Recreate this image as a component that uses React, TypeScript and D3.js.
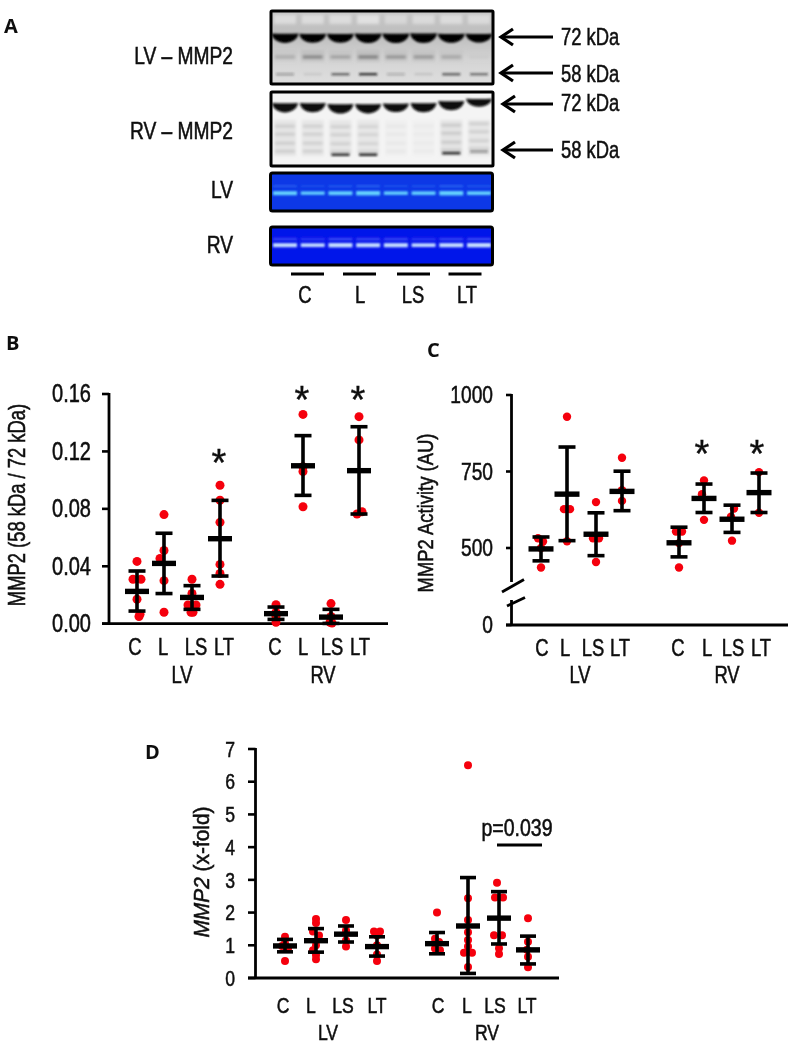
import React from "react";
import * as d3 from "d3";

const SANS = "'Liberation Sans',sans-serif";
const BOLD = "'Open Sans',sans-serif";

const groups = ["LV C", "LV L", "LV LS", "LV LT", "RV C", "RV L", "RV LS", "RV LT"];
const tickNames = ["C", "L", "LS", "LT", "C", "L", "LS", "LT"];

// ---- Panel B values
const bTicks = [0, 0.04, 0.08, 0.12, 0.16];
const bPoints = [
  [0.0434, 0.031, 0.031, 0.017, 0.005, 0.0065],
  [0.076, 0.051, 0.0455, 0.03, 0.008],
  [0.031, 0.021, 0.013, 0.013, 0.008, 0.008],
  [0.0964, 0.086, 0.0706, 0.0413, 0.035, 0.0274],
  [0.0132, 0.008, 0.005, 0.001],
  [0.1458, 0.1094, 0.106, 0.0815],
  [0.014, 0.005, 0.001, 0.0005],
  [0.1442, 0.128, 0.078, 0.0764],
];
const bJitter = [
  [0, -4, 4, 0, 2, 3],
  [0, 0, -4, 0, 0],
  [0, 0, -4, 4, -1, 1],
  [0, 0, 0, 0, 0, 0],
  [0, 0, 0, 0],
  [0, 0, 0, 0],
  [0, 0, -1, 1],
  [0, 0, 3, -2],
];
const bMeans = [0.0225, 0.042, 0.0183, 0.0592, 0.007, 0.11, 0.0046, 0.1066];
const bUpper = [0.0367, 0.063, 0.0265, 0.0859, 0.0116, 0.131, 0.01, 0.1372];
const bLower = [0.0088, 0.021, 0.01, 0.0332, 0.003, 0.0894, 0.0002, 0.0764];
const bStars = [3, 5, 7];
const bStarValues = [0.1147, 0.1587, 0.1587];

// ---- Panel C values
const cTicks = [0, 500, 750, 1000];
const cPoints = [
  [532, 521, 500, 436],
  [929, 627, 627, 522],
  [650, 532, 532, 454],
  [795, 689, 654],
  [554, 554, 516, 436],
  [721, 676, 592],
  [629, 602, 524],
  [748, 615],
];
const cJitter = [
  [-3, 2, 0, 0],
  [0, -3, 3, 0],
  [0, -3, 3, 0],
  [0, 0, 0],
  [-3, 3, 0, 0],
  [0, -2, 0],
  [2, -1, 0],
  [0, 0],
];
const cMeans = [497, 676, 545, 685, 517, 662, 594, 681];
const cUpper = [536, 830, 615, 751, 568, 709, 640, 745];
const cLower = [458, 524, 475, 622, 471, 616, 551, 616];
const cStars = [5, 7];
const cStarValues = [820, 820];

// ---- Panel D values
const dTicks = [0, 1, 2, 3, 4, 5, 6, 7];
const dPoints = [
  [1.26, 1.06, 0.98, 0.9, 0.52],
  [1.8, 1.68, 1.42, 1.3, 1.0, 0.85, 0.7, 0.57],
  [1.77, 1.45, 1.15, 0.96],
  [1.42, 1.42, 1.3, 1.0, 0.72, 0.52],
  [2.0, 1.2, 1.1, 0.9, 0.85],
  [6.5, 2.44, 1.77, 1.4, 1.16, 0.96, 0.77, 0.77, 0.34],
  [2.91, 2.46, 2.46, 1.31, 1.31, 0.91, 0.73],
  [1.83, 1.11, 0.86, 0.65, 0.33],
];
const dJitter = [
  [0, 0, -3, 3, 0],
  [0, 0, -3, 3, 0, -3, 0, 0],
  [0, 0, 0, 0],
  [-3, 3, 0, 0, 0, 0],
  [0, -2, 2, -2, 3],
  [0, 0, 0, 0, 0, 0, -4, 4, 0],
  [-2, -4, 4, -5, 3, 0, 0],
  [0, 0, -1, 0, 0],
];
const dMeans = [0.98, 1.14, 1.34, 0.96, 1.05, 1.59, 1.83, 0.86];
const dUpper = [1.18, 1.51, 1.59, 1.26, 1.39, 3.07, 2.64, 1.28];
const dLower = [0.8, 0.79, 1.1, 0.67, 0.74, 0.14, 1.04, 0.43];

// ---- Panel A band strengths (0..1), one per lane
const laneNames = ["1", "2", "3", "4", "5", "6", "7", "8"];
const lvWash = [0.75, 0.75, 0.75, 0.9, 0.6, 0.7, 0.75, 0.7];
const lvMain = [1, 0.85, 0.85, 1.05, 1.05, 1.1, 0.9, 0.8];
const lvUpper = [0.25, 0.5, 0.32, 0.55, 0.42, 0.4, 0.28, 0.05];
const lv58 = [0.3, 0.08, 0.6, 0.9, 0.22, 0.1, 0.65, 0.55];
const rvMain = [1, 0.95, 1.05, 1, 0.8, 0.95, 0.95, 0.65];
const rvLadder = [0.26, 0.24, 0.24, 0.22, 0.08, 0.06, 0.28, 0.24];
const rv58 = [0, 0, 0.9, 0.95, 0, 0, 0.9, 0.4];
const rvShift = [0, 0, 1, 1, 0, 0, -2, -5];
const blueLV = [0.85, 0.55, 0.8, 1, 0.6, 0.65, 1, 0.7];
const blueRV = [0.85, 0.7, 1, 0.9, 0.9, 0.7, 0.9, 1];
const ladderOffsets = [17, 25, 34, 42];

const conditionNames = ["C", "L", "LS", "LT"];

function T({ x, y, size, sx = 0.8, anchor = "middle", rotate = false, children }: any) {
  return (
    <text
      transform={`translate(${x},${y})${rotate ? " rotate(-90)" : ""} scale(${sx},1)`}
      textAnchor={anchor}
      dominantBaseline="central"
      fontFamily={SANS}
      fontSize={size}
      fill="#111"
      stroke="#111"
      strokeWidth={0.55}
    >
      {children}
    </text>
  );
}

type PanelProps = {
  xs: number[];
  labelXs: number[];
  y: (v: number) => number;
  ticks: number[];
  fmt: (v: number) => string;
  points: number[][];
  jitter: number[][];
  means: number[];
  upper: number[];
  lower: number[];
  axisX: number;
  axisRight: number;
  tickLeft: number;
  labelRight: number;
  labelY: number;
  groupY: number;
  groupXs: number[];
  r: number;
  fontSize: number;
  catSize: number;
  meanHalf: number;
  capHalf: number;
  noAxis?: boolean;
};

function Panel(p: PanelProps) {
  const x = d3.scaleOrdinal<string, number>().domain(groups).range(p.xs);
  const lx = d3.scaleOrdinal<string, number>().domain(groups).range(p.labelXs);
  return (
    <g>
      {!p.noAxis && (
        <line x1={p.axisX} x2={p.axisX} y1={p.y(p.ticks[p.ticks.length - 1]) - 1} y2={p.y(0)} stroke="#000" strokeWidth={2.8} />
      )}
      <line x1={p.tickLeft} x2={p.axisRight} y1={p.y(0)} y2={p.y(0)} stroke="#000" strokeWidth={2.8} />
      {p.ticks.map((t) => (
        <g key={t}>
          <line x1={p.tickLeft} x2={p.axisX} y1={p.y(t)} y2={p.y(t)} stroke="#000" strokeWidth={2.6} />
          <T x={p.labelRight} y={p.y(t)} size={p.fontSize} anchor="end">{p.fmt(t)}</T>
        </g>
      ))}
      {groups.map((g, i) => {
        const cx = x(g) as number;
        return (
          <g key={g}>
            {p.points[i].map((v, j) => (
              <circle key={j} cx={cx + p.jitter[i][j]} cy={p.y(v)} r={p.r} fill="#f5000a" />
            ))}
            <line x1={cx} x2={cx} y1={p.y(p.upper[i])} y2={p.y(p.lower[i])} stroke="#000" strokeWidth={3.6} />
            <line x1={cx - p.capHalf} x2={cx + p.capHalf} y1={p.y(p.upper[i])} y2={p.y(p.upper[i])} stroke="#000" strokeWidth={3.6} />
            <line x1={cx - p.capHalf} x2={cx + p.capHalf} y1={p.y(p.lower[i])} y2={p.y(p.lower[i])} stroke="#000" strokeWidth={3.6} />
            <line x1={cx - p.meanHalf} x2={cx + p.meanHalf} y1={p.y(p.means[i])} y2={p.y(p.means[i])} stroke="#000" strokeWidth={5.4} />
            <T x={lx(g)} y={p.labelY} size={p.catSize}>{tickNames[i]}</T>
          </g>
        );
      })}
      {["LV", "RV"].map((t, i) => (
        <T key={t} x={p.groupXs[i]} y={p.groupY} size={p.catSize}>{t}</T>
      ))}
    </g>
  );
}

function Arrow({ x1, x2, y }: { x1: number; x2: number; y: number }) {
  return (
    <g fill="none" stroke="#000" strokeWidth={3.2}>
      <line x1={x1 + 1} x2={x2} y1={y} y2={y} />
      <polyline points={`${x1 + 13},${y - 8} ${x1 + 1},${y} ${x1 + 13},${y + 8}`} />
    </g>
  );
}

function Star({ x, y }: { x: number; y: number }) {
  return (
    <text x={x} y={y + 17} textAnchor="middle" fontFamily={SANS} fontSize={38} fill="#111" stroke="#111" strokeWidth={0.4}>
      *
    </text>
  );
}

function Letter({ x, y, children }: any) {
  return <text x={x} y={y} fontFamily={BOLD} fontWeight={700} fontSize={20} fill="#111">{children}</text>;
}

function smile(cx: number, y: number, hw: number, h: number, sag: number) {
  const path = d3.path();
  path.moveTo(cx - hw, y - h / 2);
  path.quadraticCurveTo(cx, y - h / 2 + sag, cx + hw, y - h / 2);
  path.bezierCurveTo(cx + hw * 0.85, y + h * 0.9, cx - hw * 0.85, y + h * 0.9, cx - hw, y - h / 2);
  path.closePath();
  return path.toString();
}

export default function App() {
  const lane = d3.scalePoint<string>().domain(laneNames).range([285, 479]);
  const bY = d3.scaleLinear().domain([0, 0.16]).range([623.7, 394]);
  const cY = d3.scaleLinear().domain([0, 380, 500, 1000]).range([625, 584.7, 548, 395]);
  const dY = d3.scaleLinear().domain([0, 7]).range([978, 749]);
  const bX = d3.scaleOrdinal<string, number>().domain(groups).range([137, 164, 192, 220, 276, 303, 331, 359]);
  const cX = d3.scaleOrdinal<string, number>().domain(groups).range([541, 567, 596, 622, 679, 704, 732, 759]);
  const condX = d3.scaleOrdinal<string, number>().domain(conditionNames).range([307.5, 359.5, 413.5, 465]);
  const condLabel = d3.scaleOrdinal<string, number>().domain(conditionNames).range([305, 360, 413, 467]);

  return (
    <svg width={790} height={1049} style={{ position: "absolute", left: 0, top: 0, background: "#fff" }}>
      <defs>
        <filter id="soft" x="-5%" y="-5%" width="110%" height="110%">
          <feGaussianBlur stdDeviation="0.55" />
        </filter>
        <filter id="blot" filterUnits="userSpaceOnUse" x="260" y="0" width="245" height="180">
          <feGaussianBlur stdDeviation="1.7" />
        </filter>
        <filter id="band" filterUnits="userSpaceOnUse" x="260" y="0" width="245" height="280">
          <feGaussianBlur stdDeviation="0.9" />
        </filter>
        <linearGradient id="lvBg" x1="0" x2="0" y1="0" y2="1">
          <stop offset="0" stopColor="#c6c6c6" />
          <stop offset="0.35" stopColor="#bebebe" />
          <stop offset="0.65" stopColor="#d4d4d4" />
          <stop offset="1" stopColor="#dedede" />
        </linearGradient>
        <clipPath id="lvClip"><rect x={271} y={11} width={222} height={73} /></clipPath>
        <clipPath id="rvClip"><rect x={271} y={92} width={222} height={74} /></clipPath>
        <clipPath id="lvBlue"><rect x={271} y={173} width={221} height={38} /></clipPath>
        <clipPath id="rvBlue"><rect x={271} y={227} width={221} height={38} /></clipPath>
      </defs>

      <g filter="url(#soft)">
        <Letter x={4} y={33}>A</Letter>
        <Letter x={6} y={350}>B</Letter>
        <Letter x={427} y={357}>C</Letter>
        <Letter x={145} y={759}>D</Letter>

        {/* Panel A */}
        <g clipPath="url(#lvClip)">
          <rect x={270} y={10} width={224} height={75} fill="url(#lvBg)" />
          <g filter="url(#blot)">
            {laneNames.map((l, i) => {
              const c = lane(l) as number;
              return (
                <g key={l}>
                  <rect x={c - 11} y={15} width={22} height={9} fill="#fff" opacity={lvWash[i] * 0.55} />
                  <rect x={c - 12} y={50} width={24} height={12} fill="#9a9a9a" opacity={lvUpper[i] * 0.45} />
                  <rect x={c - 10} y={55.5} width={20} height={3} fill="#444" opacity={lvUpper[i] * 1.1} />
                </g>
              );
            })}
          </g>
          <g filter="url(#band)">
            {laneNames.map((l, i) => {
              const c = lane(l) as number;
              return (
                <g key={l}>
                  <rect x={c - 9} y={73} width={18} height={2.4} fill="#222" opacity={lv58[i]} />
                  <path d={smile(c, 38, 13.5, 6 + 3 * lvMain[i], 0.5)} fill="#060606" />
                </g>
              );
            })}
          </g>
        </g>
        <rect x={271} y={11} width={222} height={73} fill="none" stroke="#000" strokeWidth={3} rx={1} />

        <g clipPath="url(#rvClip)">
          <rect x={270} y={92} width={224} height={75} fill="#f4f4f4" />
          <g filter="url(#blot)">
            {laneNames.map((l, i) => {
              const c = lane(l) as number;
              return (
                <g key={l}>
                  <rect x={c - 11} y={120} width={22} height={36} fill="#cfcfcf" opacity={rvLadder[i] * 1.6} />
                  {ladderOffsets.map((o) => (
                    <rect key={o} x={c - 10} y={108 + o + rvShift[i] / 2} width={20} height={2.4} fill="#777" opacity={rvLadder[i] * 1.1} />
                  ))}
                </g>
              );
            })}
          </g>
          <g filter="url(#band)">
            {laneNames.map((l, i) => {
              const c = lane(l) as number;
              return (
                <g key={l}>
                  <rect x={c - 9} y={153 + rvShift[i] / 2} width={18} height={2.4} fill="#111" opacity={rv58[i]} />
                  <path d={smile(c, 107.5 + rvShift[i], 13, 5 + 4 * rvMain[i], 0.5)} fill="#0a0a0a" />
                </g>
              );
            })}
          </g>
        </g>
        <rect x={271} y={92} width={222} height={74} fill="none" stroke="#000" strokeWidth={3} rx={1} />

        <rect x={270.5} y={173} width={222} height={38} fill="#0a37e6" />
        <g clipPath="url(#lvBlue)">
          <g filter="url(#band)">
            {laneNames.map((l, i) => {
              const c = lane(l) as number;
              return (
                <g key={l}>
                  <rect x={c - 12} y={185.5} width={24} height={1.4} fill="#5aa0ff" opacity={blueLV[i] * 0.6} />
                  <rect x={c - 12} y={192 - blueLV[i]} width={24} height={2 + 2.4 * blueLV[i]} fill="#66d4ff" />
                </g>
              );
            })}
          </g>
        </g>
        <rect x={270.5} y={173} width={222} height={38} fill="none" stroke="#000" strokeWidth={3} rx={2} />
        <rect x={270.5} y={227} width={222} height={38} fill="#0412ea" />
        <g clipPath="url(#rvBlue)">
          <g filter="url(#band)">
            {laneNames.map((l, i) => {
              const c = lane(l) as number;
              return (
                <g key={l}>
                  <rect x={c - 12} y={238.5} width={24} height={1.4} fill="#7a8cff" opacity={blueRV[i] * 0.8} />
                  <rect x={c - 12} y={244 - blueRV[i]} width={24} height={2 + 2.4 * blueRV[i]} fill="#c8e0ff" />
                </g>
              );
            })}
          </g>
        </g>
        <rect x={270.5} y={227} width={222} height={38} fill="none" stroke="#000" strokeWidth={3} rx={2} />

        {conditionNames.map((c) => (
          <g key={c}>
            <line x1={(condX(c) as number) - 16.5} x2={(condX(c) as number) + 16.5} y1={274} y2={274} stroke="#000" strokeWidth={3.2} />
            <T x={condLabel(c)} y={295} size={23}>{c}</T>
          </g>
        ))}
        <T x={233} y={56} size={24} anchor="end">LV – MMP2</T>
        <T x={233} y={131} size={24} anchor="end">RV – MMP2</T>
        <T x={233} y={190} size={24} anchor="end">LV</T>
        <T x={233} y={245} size={24} anchor="end">RV</T>
        <Arrow x1={500} x2={553} y={37} />
        <Arrow x1={500} x2={553} y={73} />
        <Arrow x1={502} x2={553} y={104} />
        <Arrow x1={502} x2={553} y={150} />
        <T x={561} y={37} size={23} anchor="start">72 kDa</T>
        <T x={561} y={74} size={23} anchor="start">58 kDa</T>
        <T x={561} y={103} size={23} anchor="start">72 kDa</T>
        <T x={561} y={150} size={23} anchor="start">58 kDa</T>

        {/* Panel B */}
        <Panel xs={groups.map((g) => bX(g) as number)} labelXs={[135, 163, 196, 224, 275, 303, 332, 360]} y={bY} ticks={bTicks}
          fmt={(v) => d3.format(".2f")(v)} points={bPoints} jitter={bJitter} means={bMeans} upper={bUpper} lower={bLower}
          axisX={109} axisRight={388} tickLeft={102} labelRight={91} labelY={647} groupY={675} groupXs={[182, 323]}
          r={4.5} fontSize={25} catSize={23} meanHalf={12} capHalf={8.5} />
        {bStars.map((s, i) => (
          <Star key={s} x={(bX(groups[s]) as number) - 1} y={bY(bStarValues[i])} />
        ))}
        <T x={17} y={505} size={23} sx={0.8} rotate>MMP2 (58 kDa / 72 kDa)</T>

        {/* Panel C */}
        <Panel xs={groups.map((g) => cX(g) as number)} labelXs={[542, 565, 593, 620, 678, 707, 733, 761]} y={cY} ticks={cTicks}
          fmt={(v) => String(v)} points={cPoints} jitter={cJitter} means={cMeans} upper={cUpper} lower={cLower}
          axisX={511.5} axisRight={788} tickLeft={506} labelRight={493} labelY={648} groupY={675} groupXs={[580, 727]}
          r={4.2} fontSize={24} catSize={23} meanHalf={12.5} capHalf={8.5} noAxis />
        <g stroke="#000" strokeWidth={2.8} fill="none">
          <line x1={511.5} x2={511.5} y1={cY(1000) - 1} y2={cY(0) - 43} />
          <line x1={511.5} x2={511.5} y1={cY(0) - 25} y2={cY(0)} />
          <line x1={502} x2={524} y1={592} y2={579.5} />
          <line x1={507} x2={525} y1={606} y2={597.5} />
        </g>
        {cStars.map((s, i) => (
          <Star key={s} x={(cX(groups[s]) as number) - 2} y={cY(cStarValues[i])} />
        ))}
        <T x={425} y={513} size={22} sx={0.84} rotate>MMP2 Activity (AU)</T>

        {/* Panel D */}
        <Panel xs={[285, 316, 346, 377, 437, 468, 499, 528]} labelXs={[283, 311, 343, 377, 438, 467, 495, 527]} y={dY} ticks={dTicks}
          fmt={(v) => String(v)} points={dPoints} jitter={dJitter} means={dMeans} upper={dUpper} lower={dLower}
          axisX={255.5} axisRight={559} tickLeft={248} labelRight={235} labelY={1005} groupY={1032} groupXs={[328, 487]}
          r={4} fontSize={22} catSize={22} meanHalf={12} capHalf={8} />
        <T x={202} y={872} size={22} sx={0.95} rotate>
          <tspan fontStyle="italic">MMP2</tspan> (x-fold)
        </T>
        <T x={517} y={828} size={23} sx={0.85}>p=0.039</T>
        <line x1={497} x2={542} y1={845} y2={845} stroke="#000" strokeWidth={3} />
      </g>
    </svg>
  );
}
